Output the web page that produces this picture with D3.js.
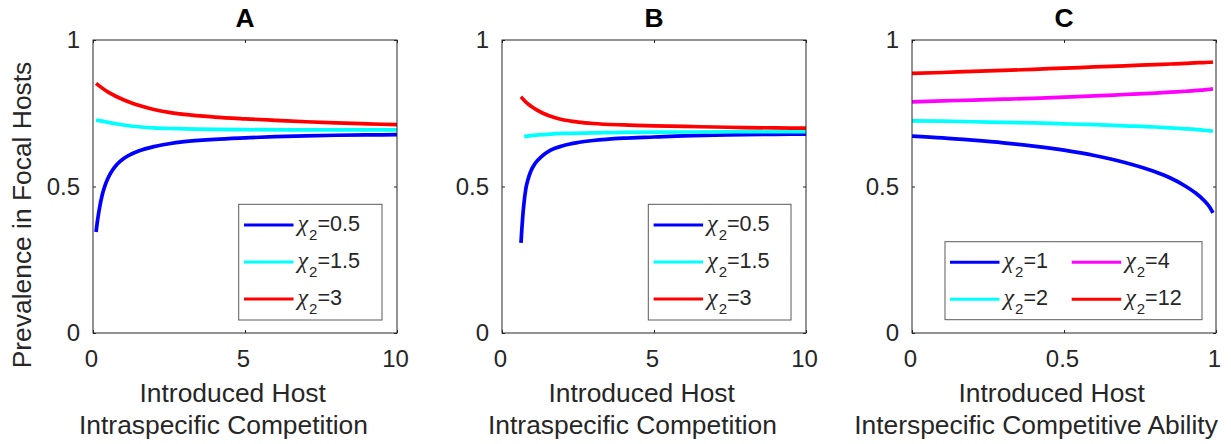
<!DOCTYPE html>
<html>
<head>
<meta charset="utf-8">
<script src="https://cdn.jsdelivr.net/npm/d3@7"></script>
<style>
    body { margin: 0; background: #fff; }
    svg { font-family: "Liberation Sans", Arial, Helvetica, sans-serif; }
</style>
</head>
<body>
<svg id="fig" width="1231" height="444"></svg>
<script>
/* global d3 */

// waardes

// paneel A
var xAblue = [0.1, 0.15, 0.2, 0.3, 0.4, 0.5, 0.65, 0.8, 1, 1.25, 1.5, 2, 2.5, 3, 4, 5, 6, 7, 8, 9, 10];
var blueA = [0.345, 0.385, 0.418, 0.47, 0.505, 0.53, 0.557, 0.577, 0.595, 0.61, 0.621, 0.636, 0.646, 0.653, 0.661, 0.666, 0.670, 0.673, 0.675, 0.676, 0.677];
var xAcyan = [0.1, 0.3, 0.5, 0.75, 1, 1.5, 2, 2.5, 3, 4, 5, 7, 10];
var cyanA = [0.727, 0.723, 0.719, 0.714, 0.710, 0.704, 0.700, 0.698, 0.697, 0.695, 0.694, 0.693, 0.693];
var xAred = [0.1, 0.25, 0.5, 0.75, 1, 1.25, 1.5, 2, 2.5, 3, 4, 5, 6, 7, 8, 9, 10];
var redA = [0.852, 0.840, 0.822, 0.808, 0.796, 0.786, 0.777, 0.763, 0.753, 0.746, 0.737, 0.731, 0.726, 0.721, 0.717, 0.714, 0.711];

// paneel B
var xBblue = [0.625, 0.65, 0.68, 0.72, 0.78, 0.85, 0.95, 1.1, 1.3, 1.6, 2, 2.5, 3, 4, 5, 6, 7, 8, 9, 10];
var blueB = [0.308, 0.35, 0.395, 0.44, 0.49, 0.522, 0.553, 0.58, 0.602, 0.624, 0.639, 0.650, 0.657, 0.665, 0.669, 0.673, 0.675, 0.677, 0.678, 0.679];
var xBcyan = [0.73, 0.9, 1.2, 1.6, 2, 3, 4, 6, 8, 10];
var cyanB = [0.670, 0.673, 0.676, 0.679, 0.681, 0.683, 0.685, 0.686, 0.687, 0.687];
var xBred = [0.625, 0.75, 0.9, 1.1, 1.35, 1.7, 2, 2.5, 3, 4, 5, 6, 7, 8, 9, 10];
var redB = [0.806, 0.792, 0.778, 0.764, 0.750, 0.736, 0.728, 0.720, 0.715, 0.710, 0.707, 0.705, 0.703, 0.701, 0.700, 0.699];

// paneel C
var xC = [0, 0.1, 0.2, 0.3, 0.4, 0.5, 0.6, 0.7, 0.8, 0.85, 0.9, 0.93, 0.96, 0.98, 0.99];
var blueC = [0.672, 0.666, 0.658, 0.649, 0.638, 0.624, 0.606, 0.582, 0.550, 0.529, 0.501, 0.480, 0.453, 0.428, 0.41];
var cyanC = [0.724, 0.723, 0.721, 0.719, 0.717, 0.714, 0.711, 0.707, 0.703, 0.700, 0.697, 0.695, 0.692, 0.690, 0.689];
var magentaC = [0.789, 0.792, 0.795, 0.798, 0.801, 0.805, 0.809, 0.814, 0.819, 0.822, 0.825, 0.827, 0.830, 0.832, 0.833];
var redC = [0.886, 0.889, 0.893, 0.896, 0.900, 0.904, 0.908, 0.912, 0.916, 0.918, 0.920, 0.922, 0.923, 0.924, 0.925];

var titles = ["A", "B", "C"];
var yTicks = [0, 0.5, 1];
var yTickLabels = ["0", "0.5", "1"];
var xTicksAB = [0, 5, 10];
var xTickLabelsAB = ["0", "5", "10"];
var xTicksC = [0, 0.5, 1];
var xTickLabelsC = ["0", "0.5", "1"];
var yLabel = "Prevalence in Focal Hosts";
var xLabelLine1 = "Introduced Host";
var xLabelsLine2 = ["Intraspecific Competition", "Intraspecific Competition", "Interspecific Competitive Ability"];
var legendAB = ["0.5", "1.5", "3"];
var legendC = ["1", "4", "2", "12"];

function zip(xs, ys) {
    return xs.map(function (x, i) {
        return { x: x, y: ys[i] };
    });
}

var panels = [
    {
        left: 93, xMax: 10, ticks: xTicksAB, tickLabels: xTickLabelsAB,
        series: [
            { pts: zip(xAblue, blueA), color: "#0000ff" },
            { pts: zip(xAcyan, cyanA), color: "#00ffff" },
            { pts: zip(xAred, redA), color: "#ff0000" }
        ],
        legend: { x: 238.7, y: 204.3, w: 143.3, h: 115.7, cols: 1,
            items: [["#0000ff", legendAB[0]], ["#00ffff", legendAB[1]], ["#ff0000", legendAB[2]]] },
        line2dx: -21.5
    },
    {
        left: 502, xMax: 10, ticks: xTicksAB, tickLabels: xTickLabelsAB,
        series: [
            { pts: zip(xBblue, blueB), color: "#0000ff" },
            { pts: zip(xBcyan, cyanB), color: "#00ffff" },
            { pts: zip(xBred, redB), color: "#ff0000" }
        ],
        legend: { x: 648.3, y: 204.3, w: 142.7, h: 115.7, cols: 1,
            items: [["#0000ff", legendAB[0]], ["#00ffff", legendAB[1]], ["#ff0000", legendAB[2]]] },
        line2dx: -21.5
    },
    {
        left: 912, xMax: 1, ticks: xTicksC, tickLabels: xTickLabelsC,
        series: [
            { pts: zip(xC, blueC), color: "#0000ff" },
            { pts: zip(xC, cyanC), color: "#00ffff" },
            { pts: zip(xC, magentaC), color: "#ff00ff" },
            { pts: zip(xC, redC), color: "#ff0000" }
        ],
        legend: { x: 945, y: 241.7, w: 257, h: 78, cols: 2,
            items: [["#0000ff", legendC[0]], ["#ff00ff", legendC[1]], ["#00ffff", legendC[2]], ["#ff0000", legendC[3]]] },
        line2dx: -28
    }
];

var svg = d3.select("#fig");
var top0 = 40, bottom0 = 333, width = 304;
var ink = "#262626";

var y = d3.scaleLinear().domain([0, 1]).range([bottom0, top0]);

panels.forEach(function (p, k) {
    var x = d3.scaleLinear().domain([0, p.xMax]).range([p.left, p.left + width]);
    var g = svg.append("g");

    // lijnen
    var line = d3.line()
        .x(function (d) { return x(d.x); })
        .y(function (d) { return y(d.y); })
        .curve(d3.curveMonotoneX);

    p.series.forEach(function (s) {
        g.append("path")
            .attr("d", line(s.pts))
            .attr("fill", "none")
            .attr("stroke", s.color)
            .attr("stroke-width", 3.7);
    });

    // kader en assen (matlab stijl, ticks naar binnen)
    g.append("rect")
        .attr("x", p.left).attr("y", top0)
        .attr("width", width).attr("height", bottom0 - top0)
        .attr("fill", "none").attr("stroke", ink).attr("stroke-width", 1);

    var ax = g.append("g")
        .attr("transform", "translate(0," + bottom0 + ")")
        .call(d3.axisBottom(x).tickValues(p.ticks)
            .tickFormat(function (d, i) { return p.tickLabels[i]; })
            .tickSizeInner(-3).tickSizeOuter(0).tickPadding(17));
    ax.select(".domain").remove();
    ax.selectAll("line").attr("stroke", ink);
    ax.selectAll("text")
        .attr("font-size", 24).attr("font-family", null)
        .attr("fill", ink).attr("dx", -2);

    var axTop = g.append("g")
        .attr("transform", "translate(0," + top0 + ")")
        .call(d3.axisTop(x).tickValues(p.ticks).tickFormat("")
            .tickSizeInner(-3).tickSizeOuter(0));
    axTop.select(".domain").remove();
    axTop.selectAll("line").attr("stroke", ink);

    var ay = g.append("g")
        .attr("transform", "translate(" + p.left + ",0)")
        .call(d3.axisLeft(y).tickValues(yTicks)
            .tickFormat(function (d, i) { return yTickLabels[i]; })
            .tickSizeInner(-3).tickSizeOuter(0).tickPadding(13));
    ay.select(".domain").remove();
    ay.selectAll("line").attr("stroke", ink);
    ay.selectAll("text")
        .attr("font-size", 24).attr("font-family", null)
        .attr("fill", ink);

    var ayR = g.append("g")
        .attr("transform", "translate(" + (p.left + width) + ",0)")
        .call(d3.axisRight(y).tickValues(yTicks).tickFormat("")
            .tickSizeInner(-3).tickSizeOuter(0));
    ayR.select(".domain").remove();
    ayR.selectAll("line").attr("stroke", ink);

    // titel
    var cx = p.left + width / 2;
    g.append("text")
        .attr("x", cx).attr("y", 27.3)
        .attr("text-anchor", "middle")
        .attr("font-size", 26.4).attr("font-weight", "bold")
        .attr("fill", "#000")
        .text(titles[k]);

    // x label (twee regels)
    g.append("text")
        .attr("x", cx - 12.3).attr("y", 401.7)
        .attr("text-anchor", "middle")
        .attr("font-size", 26.4).attr("fill", ink)
        .text(xLabelLine1);
    g.append("text")
        .attr("x", cx + p.line2dx).attr("y", 434)
        .attr("text-anchor", "middle")
        .attr("font-size", 26.4).attr("fill", ink)
        .text(xLabelsLine2[k]);

    // legenda
    var L = p.legend;
    var lg = g.append("g");
    lg.append("rect")
        .attr("x", L.x).attr("y", L.y).attr("width", L.w).attr("height", L.h)
        .attr("fill", "#fff").attr("stroke", "#5a5a5a").attr("stroke-width", 1);

    L.items.forEach(function (it, i) {
        var col, row, lx, ly;
        if (L.cols === 1) {
            col = 0; row = i;
            lx = L.x + 5.3;
            ly = L.y + 20.7 + row * 37;
        } else {
            col = i % 2; row = Math.floor(i / 2);
            lx = L.x + 5 + col * 121.7;
            ly = L.y + 20.6 + row * 37;
        }
        lg.append("line")
            .attr("x1", lx).attr("x2", lx + 49.5)
            .attr("y1", ly).attr("y2", ly)
            .attr("stroke", it[0]).attr("stroke-width", 3);
        var t = lg.append("text")
            .attr("x", lx + 53.5).attr("y", ly + 6)
            .attr("font-size", 21.6).attr("fill", ink);
        t.append("tspan")
            .attr("font-family", "'Liberation Serif', 'DejaVu Serif', serif")
            .attr("font-style", "italic")
            .attr("font-size", 24)
            .text("\u03c7");
        t.append("tspan")
            .attr("font-size", 15).attr("dy", 9).attr("dx", 1)
            .text("2");
        t.append("tspan")
            .attr("dy", -9)
            .text("=" + it[1]);
    });
});

// y label, alleen links
svg.append("text")
    .attr("transform", "translate(31,215) rotate(-90)")
    .attr("text-anchor", "middle")
    .attr("font-size", 26.4).attr("fill", ink)
    .text(yLabel);
</script>
</body>
</html>
